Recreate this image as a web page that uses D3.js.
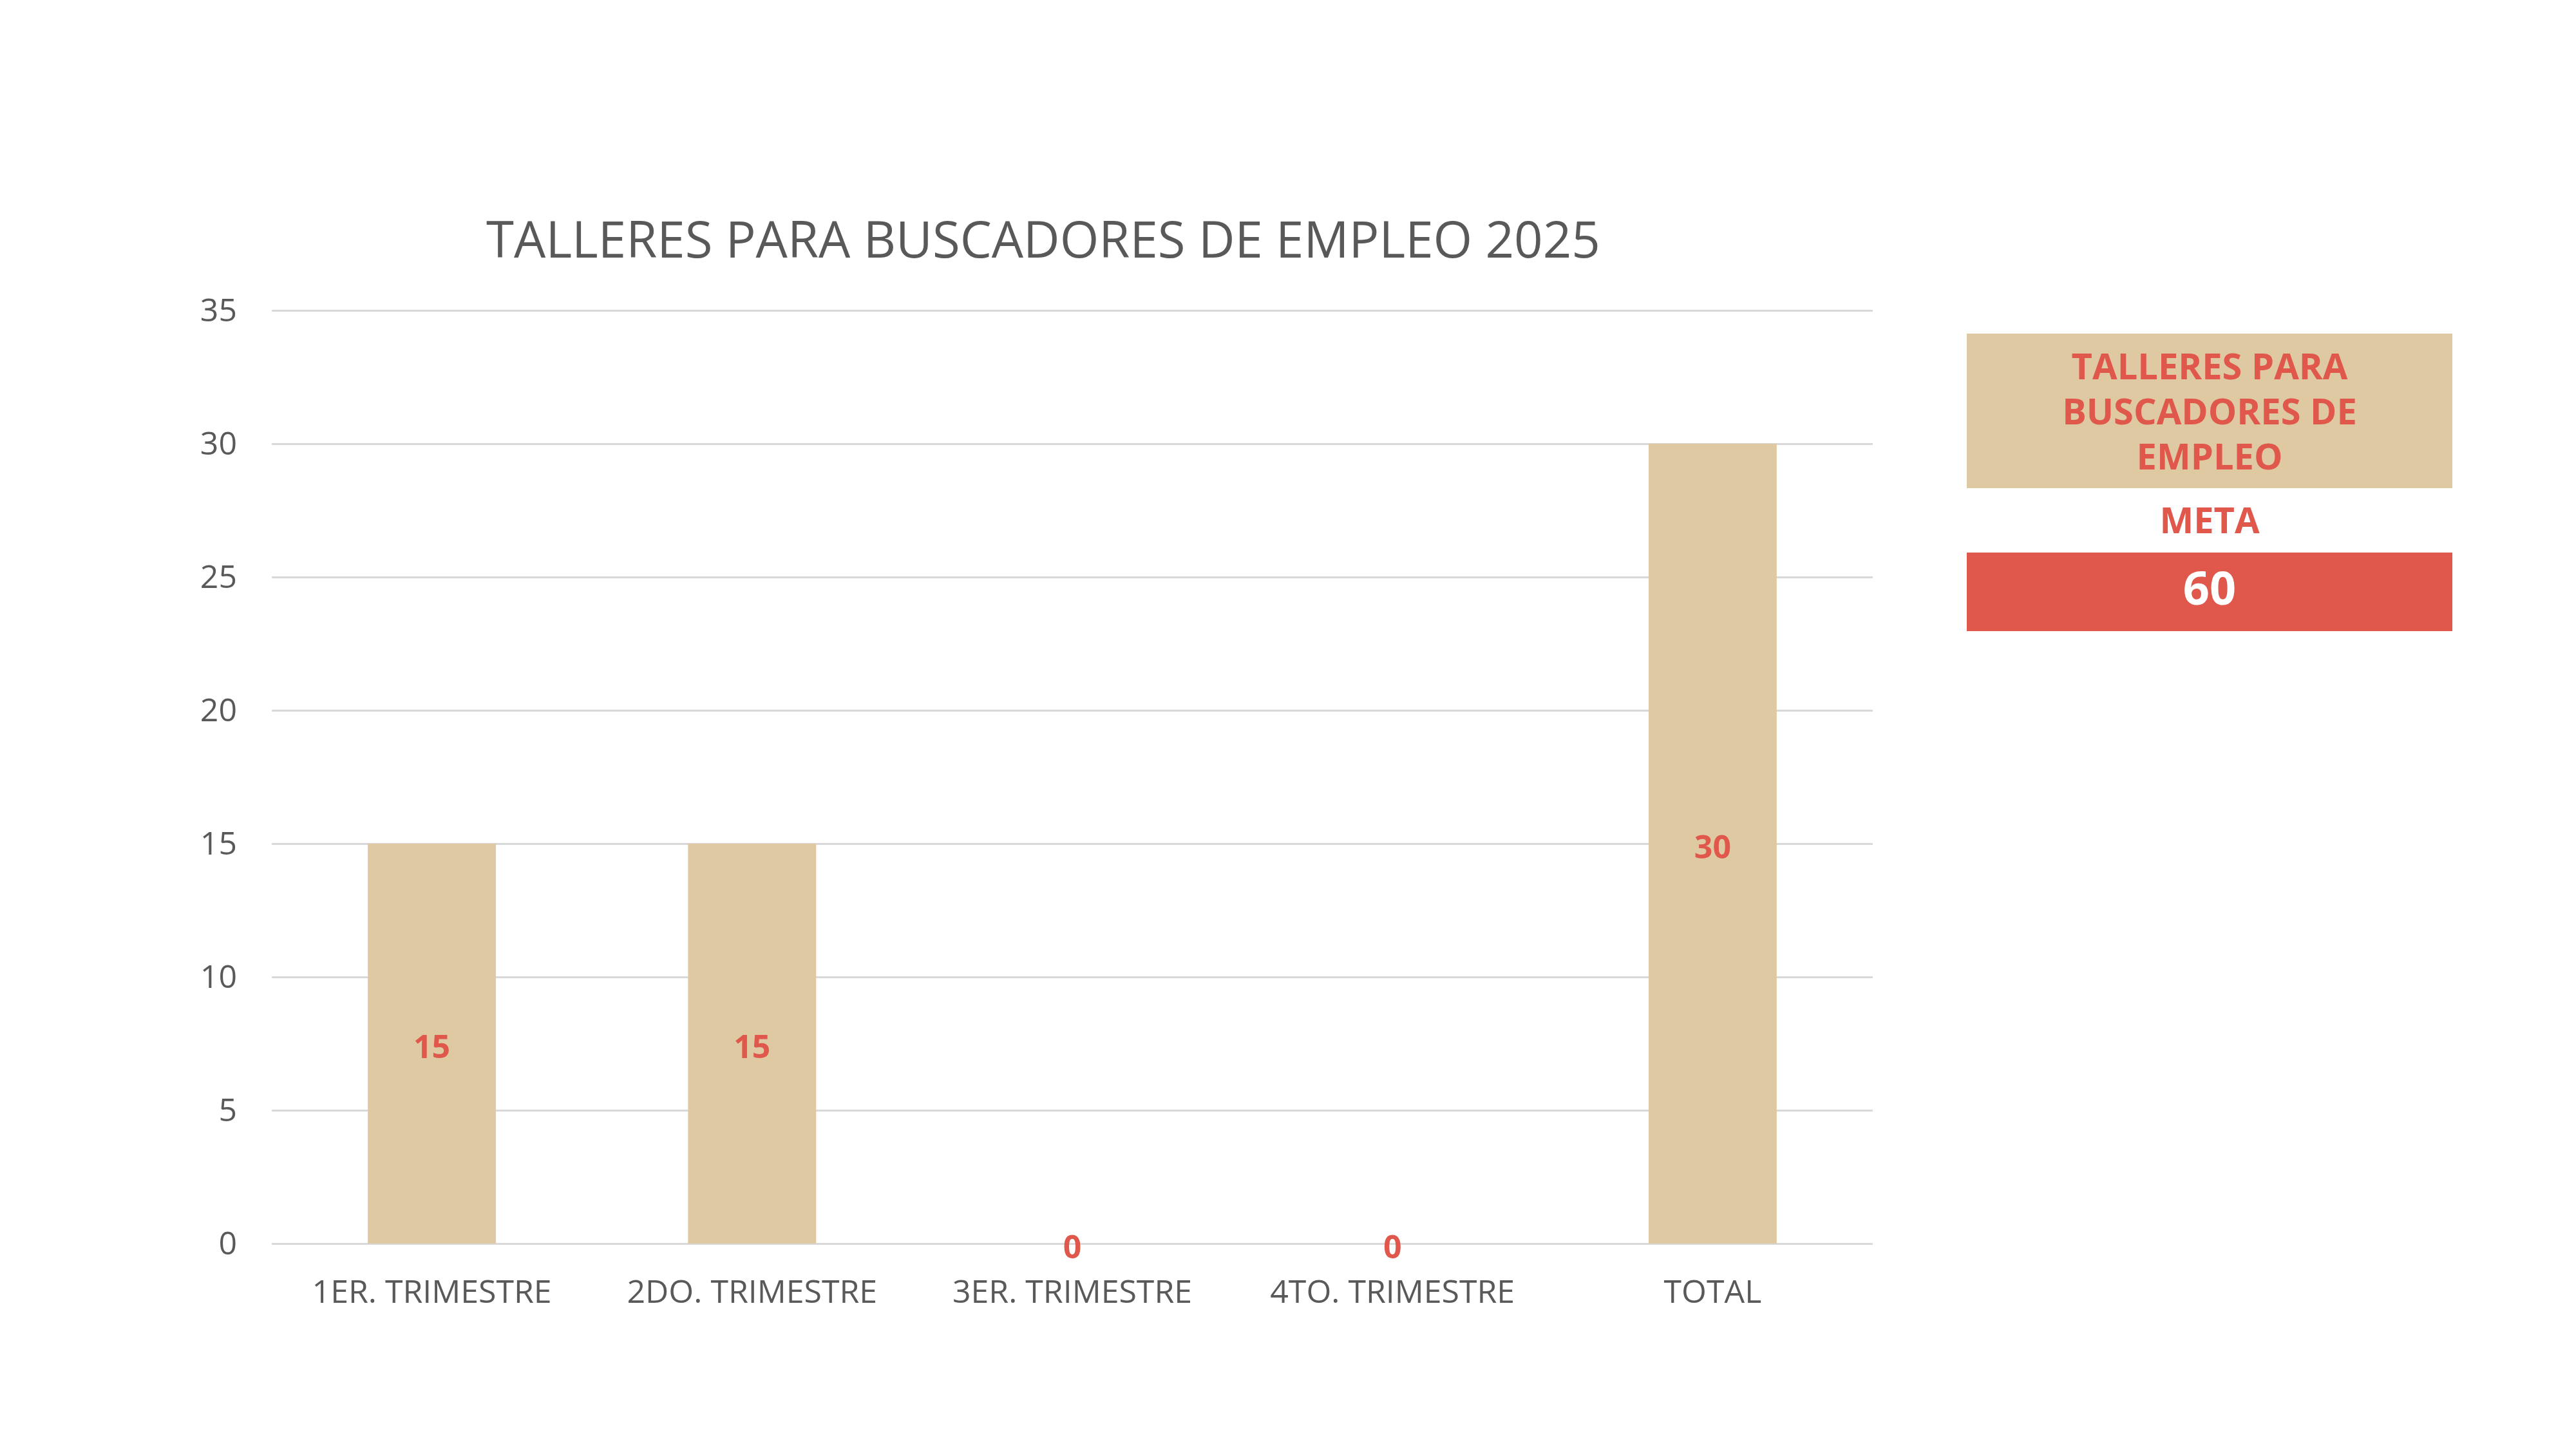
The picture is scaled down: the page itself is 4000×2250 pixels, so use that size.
<!DOCTYPE html>
<html>
<head>
<meta charset="utf-8">
<script src="https://cdn.jsdelivr.net/npm/d3@7"></script>
<style>
  html, body { margin: 0; padding: 0; background: #fff; }
  svg { display: block; font-family: 'Open Sans', sans-serif; }
</style>
</head>
<body>
<div id="chart"></div>
<script>
const categories = ['1ER. TRIMESTRE', '2DO. TRIMESTRE', '3ER. TRIMESTRE', '4TO. TRIMESTRE', 'TOTAL'];
const values = [15, 15, 0, 0, 30];
const yTicks = [0, 5, 10, 15, 20, 25, 30, 35];
const title = 'TALLERES PARA BUSCADORES DE EMPLEO 2025';
const panelTitle = ['TALLERES PARA', 'BUSCADORES DE', 'EMPLEO'];
const metaLabel = 'META';
const metaValue = 60;

const width = 4000;
const height = 2250;
const margin = { top: 482, right: 1092, bottom: 319, left: 422 };

const tan = '#DEC9A3';
const red = '#E0574C';
const textGray = '#595959';
const gridGray = '#D9D9D9';

const svg = d3.select('#chart').append('svg')
    .attr('width', width)
    .attr('height', height);

const plotW = width - margin.left - margin.right;
const plotH = height - margin.top - margin.bottom;

const x = d3.scaleBand()
    .domain(categories)
    .range([0, plotW])
    .paddingInner(0.6)
    .paddingOuter(0.3);

const y = d3.scaleLinear()
    .domain([0, 35])
    .range([plotH, 0]);

const g = svg.append('g')
    .attr('transform', `translate(${margin.left},${margin.top})`);

// gridlines
g.append('g')
    .call(d3.axisLeft(y).tickValues(yTicks).tickSize(-plotW).tickFormat(''))
    .call(a => a.select('.domain').remove())
    .call(a => a.selectAll('line').attr('stroke', gridGray).attr('stroke-width', 3));

// y labels
g.append('g')
    .call(d3.axisLeft(y).tickValues(yTicks).tickSize(0).tickPadding(54))
    .call(a => a.select('.domain').remove())
    .call(a => a.selectAll('text')
        .attr('fill', textGray)
        .attr('font-size', 50)
        .attr('font-family', "'Open Sans', sans-serif"));

// bars
g.selectAll('rect.bar')
    .data(values)
    .join('rect')
    .attr('class', 'bar')
    .attr('x', (d, i) => x(categories[i]))
    .attr('y', d => y(d))
    .attr('width', x.bandwidth())
    .attr('height', d => plotH - y(d))
    .attr('fill', tan);

// x labels
g.append('g')
    .attr('transform', `translate(0,${plotH})`)
    .call(d3.axisBottom(x).tickSize(0).tickPadding(56))
    .call(a => a.select('.domain').remove())
    .call(a => a.selectAll('text')
        .attr('fill', textGray)
        .attr('font-size', 50)
        .attr('font-family', "'Open Sans', sans-serif"));

// data labels, centred in each bar
g.selectAll('text.val')
    .data(values)
    .join('text')
    .attr('class', 'val')
    .attr('x', (d, i) => x(categories[i]) + x.bandwidth() / 2)
    .attr('y', d => y(d / 2))
    .attr('dy', '0.45em')
    .attr('text-anchor', 'middle')
    .attr('font-size', 50)
    .attr('font-weight', 700)
    .attr('fill', red)
    .text(d => d);

// title
svg.append('text')
    .attr('x', 1620)
    .attr('y', 400)
    .attr('text-anchor', 'middle')
    .attr('font-size', 78)
    .attr('fill', textGray)
    .text(title);

// right panel
const panel = svg.append('g').attr('transform', 'translate(3054,518)');
const panelW = 754;
const cx = panelW / 2;

panel.append('rect')
    .attr('width', panelW)
    .attr('height', 240)
    .attr('fill', tan);

panel.selectAll('text.ptitle')
    .data(panelTitle)
    .join('text')
    .attr('class', 'ptitle')
    .attr('x', cx)
    .attr('y', (d, i) => 71 + i * 70)
    .attr('text-anchor', 'middle')
    .attr('font-size', 56)
    .attr('font-weight', 700)
    .attr('fill', red)
    .text(d => d);

panel.append('text')
    .attr('x', cx)
    .attr('y', 310)
    .attr('text-anchor', 'middle')
    .attr('font-size', 56)
    .attr('font-weight', 700)
    .attr('fill', red)
    .text(metaLabel);

panel.append('rect')
    .attr('y', 340)
    .attr('width', panelW)
    .attr('height', 122)
    .attr('fill', red);

panel.append('text')
    .attr('x', cx)
    .attr('y', 396)
    .attr('dy', '0.35em')
    .attr('text-anchor', 'middle')
    .attr('font-size', 72)
    .attr('font-weight', 700)
    .attr('fill', '#fff')
    .text(metaValue);
</script>
</body>
</html>
